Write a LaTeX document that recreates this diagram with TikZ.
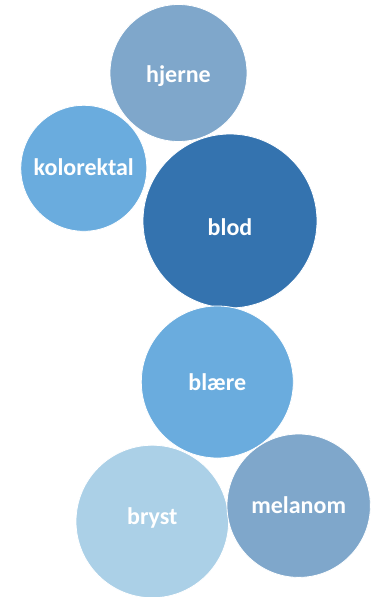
\documentclass[tikz,border=0pt]{standalone}
\usepackage{fontspec}
\setmainfont{Carlito}
\definecolor{greyblue}{RGB}{127, 167, 203}
\definecolor{midblue}{RGB}{106, 172, 222}
\definecolor{deepblue}{RGB}{52, 115, 175}
\definecolor{paleblue}{RGB}{171, 208, 231}
\usetikzlibrary{positioning}
\tikzset{
  bubble/.style={circle, draw=white, line width=0.8pt, inner sep=0pt},
  bubbletext/.style={text=white, inner sep=0pt, font=\fontsize{24}{28}\selectfont\bfseries}
}

\begin{document}
\begin{tikzpicture}[x=1pt, y=-1pt]
  \useasboundingbox (0, 0) rectangle (373, 597);

  % Top cluster
  \node[bubble, fill=greyblue, minimum size=137pt] (hjerne) at (178.5, 73) {};
  \node[bubble, fill=midblue, minimum size=126pt] (kolorektal) at (83.8, 168.3) {};
  \node[bubble, fill=deepblue, minimum size=174pt] (blod) at (230, 221) {};

  % Bottom cluster
  \node[bubble, fill=midblue, minimum size=152pt] (blaere) at (217.3, 382) {};
  \node[bubble, fill=paleblue, minimum size=152.6pt] (bryst) at (152.3, 521.5) {};
  \node[bubble, fill=greyblue, minimum size=143.4pt] (melanom) at (298.7, 505.7) {};

  % Labels
  \node[bubbletext] at ([yshift=-3pt]hjerne.center) {hjerne};
  \node[bubbletext] at ([yshift=1pt]kolorektal.center) {kolorektal};
  \node[bubbletext] at ([yshift=-6pt]blod.center) {blod};
  \node[bubbletext] at ([yshift=0pt]blaere.center) {blære};
  \node[bubbletext] at ([yshift=4pt]bryst.center) {bryst};
  \node[bubbletext] at ([yshift=1pt]melanom.center) {melanom};
\end{tikzpicture}
\end{document}
